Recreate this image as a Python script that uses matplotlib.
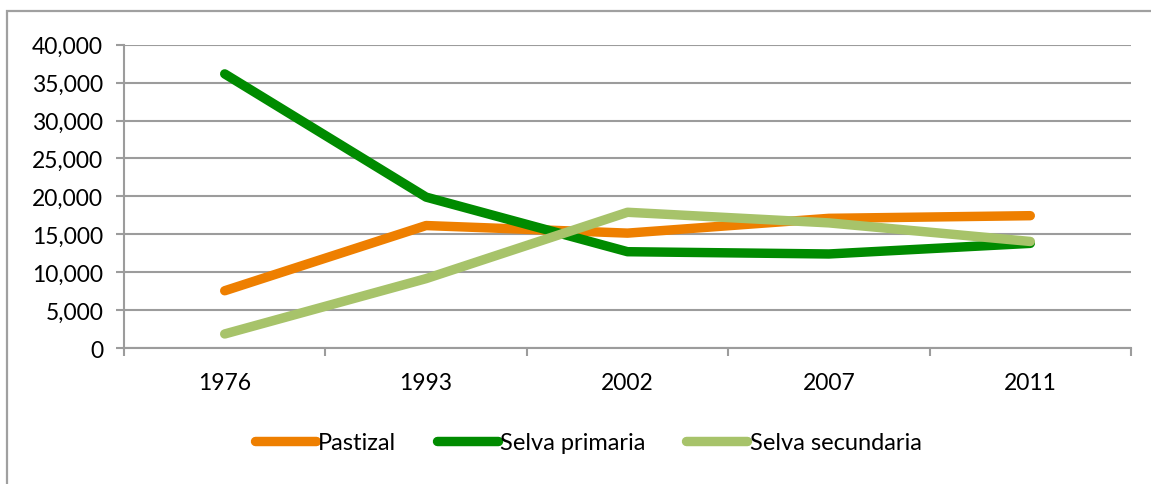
import matplotlib.pyplot as plt
from matplotlib.patches import Rectangle
from matplotlib.ticker import FuncFormatter, FixedLocator

years = ["1976", "1993", "2002", "2007", "2011"]
pastizal = [7550, 16150, 15150, 17100, 17450]
selva_primaria = [36150, 19900, 12700, 12400, 13800]
selva_secundaria = [1850, 9150, 17900, 16500, 14050]

plt.rcParams['font.family'] = ['Lato', 'DejaVu Sans']

fig = plt.figure(figsize=(11.51, 4.85), dpi=100)
fig.patches.append(Rectangle((7 / 1151, -0.1), 1.2, 1.1 - 12 / 485,
                             transform=fig.transFigure, fill=False,
                             edgecolor='#a0a0a0', linewidth=1.6))
ax = fig.add_axes([124 / 1151, 1 - 349 / 485, (1131 - 124) / 1151, (349 - 45.7) / 485])

grid_c = '#9c9c9c'
x = list(range(len(years)))
ax.plot(x, pastizal, color='#ee7f00', lw=6.8, solid_capstyle='round', label='Pastizal')
ax.plot(x, selva_primaria, color='#008b00', lw=6.8, solid_capstyle='round', label='Selva primaria')
ax.plot(x, selva_secundaria, color='#a7c36a', lw=6.8, solid_capstyle='round', label='Selva secundaria')

ax.set_xlim(-0.5, len(years) - 0.5)
ax.set_ylim(0, 40000)
ax.set_yticks(range(0, 40001, 5000))
ax.yaxis.set_major_formatter(FuncFormatter(lambda v, p: f"{int(v):,}"))
ax.grid(axis='y', color=grid_c, lw=1.5)
ax.set_axisbelow(True)

ax.set_xticks(x)
ax.set_xticklabels(years)
ax.xaxis.set_minor_locator(FixedLocator([i - 0.5 for i in range(len(years) + 1)]))
ax.tick_params(axis='x', which='major', length=0, pad=17, labelsize=16.5)
ax.tick_params(axis='x', which='minor', length=6, width=1.5, color=grid_c)
ax.tick_params(axis='y', length=6, width=1.5, color=grid_c, labelsize=16.5, pad=9)

for s in ['top', 'right']:
    ax.spines[s].set_visible(False)
for s in ['left', 'bottom']:
    ax.spines[s].set_color(grid_c)
    ax.spines[s].set_linewidth(1.5)

leg = fig.legend(loc='center', bbox_to_anchor=(588 / 1151, 1 - 444 / 485), ncol=3,
                 frameon=False, fontsize=17, handlelength=2.6, handletextpad=0.1,
                 columnspacing=1.7)

fig.savefig('out.png', dpi=100)
